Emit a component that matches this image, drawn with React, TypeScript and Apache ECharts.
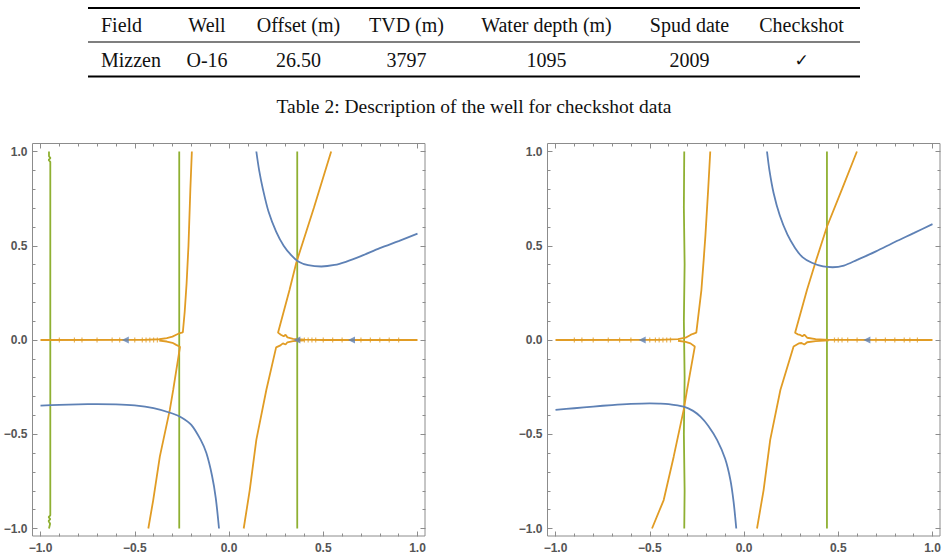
import React, { useEffect, useRef } from 'react';
import * as echarts from 'echarts';

// ---------- table content ----------
const tableHeaders = ['Field', 'Well', 'Offset (m)', 'TVD (m)', 'Water depth (m)', 'Spud date', 'Checkshot'];
const tableRow = ['Mizzen', 'O-16', '26.50', '3797', '1095', '2009', '✓'];
const captionText = 'Table 2: Description of the well for checkshot data';

// ---------- axis ticks ----------
const axisMin = -1;
const axisMax = 1;
const majorStep = 0.5;

// ---------- left plot data ----------
const leftBlueUpper = [
  [0.145, 1.0], [0.16, 0.9], [0.18, 0.8], [0.21, 0.68], [0.25, 0.575], [0.29, 0.5],
  [0.33, 0.45], [0.37, 0.415], [0.42, 0.397], [0.49, 0.39], [0.56, 0.398], [0.62, 0.415],
  [0.7, 0.445], [0.8, 0.487], [0.9, 0.525], [1.0, 0.564],
];
const leftBlueLower = [
  [-1.0, -0.348], [-0.9, -0.344], [-0.8, -0.341], [-0.7, -0.340], [-0.6, -0.341],
  [-0.5, -0.347], [-0.4, -0.362], [-0.3, -0.39], [-0.25, -0.412], [-0.2, -0.45],
  [-0.15, -0.53], [-0.12, -0.6], [-0.09, -0.72], [-0.07, -0.84], [-0.053, -1.0],
];
const leftOrangeUpperLeft = [
  [-0.197, 1.0], [-0.205, 0.8], [-0.215, 0.5], [-0.225, 0.3], [-0.235, 0.15],
  [-0.245, 0.04], [-0.26, 0.037], [-0.28, 0.028], [-0.3, 0.018], [-0.33, 0.01],
  [-0.37, 0.004], [-0.45, 0.001], [-1.0, 0.0],
];
const leftOrangeLowerLeft = [
  [-0.37, -0.003], [-0.33, -0.008], [-0.3, -0.015], [-0.28, -0.026], [-0.26, -0.036],
  [-0.262, -0.05], [-0.296, -0.265], [-0.314, -0.371], [-0.367, -0.619], [-0.402, -0.849],
  [-0.428, -1.0],
];
const leftOrangeUpperRight = [
  [0.542, 1.0], [0.45, 0.7], [0.357, 0.41], [0.321, 0.265], [0.26, 0.039],
  [0.275, 0.028], [0.29, 0.02], [0.3, 0.028], [0.31, 0.014], [0.34, 0.006],
  [0.4, 0.002], [0.5, 0.0], [1.0, 0.0],
];
const leftOrangeLowerRight = [
  [0.4, -0.002], [0.34, -0.006], [0.31, -0.012], [0.3, -0.024], [0.286, -0.018],
  [0.27, -0.03], [0.25, -0.039], [0.198, -0.265], [0.145, -0.53], [0.11, -0.796],
  [0.078, -1.0],
];
const leftGreenA = [
  [-0.955, 1.0], [-0.955, 0.975], [-0.947, 0.965], [-0.957, 0.955], [-0.948, 0.945],
  [-0.948, -0.93], [-0.957, -0.94], [-0.948, -0.95], [-0.957, -0.96], [-0.949, -0.975],
  [-0.955, -1.0],
];
const leftGreenB = [[-0.264, 1.0], [-0.264, -1.0]];
const leftGreenC = [[0.362, 1.0], [0.362, -1.0]];
const leftBlueMarks = [[-0.55, 0], [0.65, 0], [0.36, 0]];
const leftOrangeTicks = [
  [-0.9, 0], [-0.82, 0], [-0.78, 0], [-0.7, 0], [-0.62, 0], [-0.58, 0], [-0.5, 0],
  [-0.46, 0], [-0.44, 0], [-0.42, 0], [-0.4, 0], [-0.38, 0],
  [0.4, 0], [0.42, 0], [0.44, 0], [0.46, 0], [0.5, 0], [0.55, 0], [0.6, 0], [0.7, 0],
  [0.75, 0], [0.8, 0], [0.85, 0], [0.9, 0],
];

// ---------- right plot data ----------
const rightBlueUpper = [
  [0.122, 1.0], [0.135, 0.9], [0.157, 0.78], [0.19, 0.66], [0.23, 0.56], [0.27, 0.49],
  [0.31, 0.44], [0.36, 0.41], [0.42, 0.39], [0.47, 0.386], [0.53, 0.395], [0.6, 0.425],
  [0.7, 0.47], [0.8, 0.52], [0.9, 0.567], [1.0, 0.615],
];
const rightBlueLower = [
  [-1.0, -0.371], [-0.9, -0.362], [-0.8, -0.353], [-0.7, -0.345], [-0.6, -0.339],
  [-0.5, -0.336], [-0.45, -0.337], [-0.4, -0.34], [-0.32, -0.354], [-0.27, -0.376],
  [-0.231, -0.407], [-0.19, -0.455], [-0.143, -0.53], [-0.1, -0.63], [-0.072, -0.743],
  [-0.055, -0.86], [-0.041, -1.0],
];
const rightOrangeUpperLeft = [
  [-0.179, 1.0], [-0.19, 0.8], [-0.205, 0.55], [-0.214, 0.424], [-0.226, 0.265],
  [-0.253, 0.039], [-0.27, 0.033], [-0.284, 0.027], [-0.31, 0.012], [-0.35, 0.005],
  [-0.45, 0.001], [-1.0, 0.0],
];
const rightOrangeLowerLeft = [
  [-0.35, -0.004], [-0.31, -0.01], [-0.284, -0.018], [-0.261, -0.035], [-0.302, -0.265],
  [-0.32, -0.371], [-0.373, -0.619], [-0.426, -0.849], [-0.488, -1.0],
];
const rightOrangeUpperRight = [
  [0.599, 1.0], [0.52, 0.8], [0.44, 0.601], [0.383, 0.424], [0.334, 0.265],
  [0.271, 0.039], [0.285, 0.03], [0.298, 0.027], [0.31, 0.02], [0.32, 0.028],
  [0.335, 0.012], [0.38, 0.005], [0.45, 0.001], [1.0, 0.0],
];
const rightOrangeLowerRight = [
  [0.45, -0.002], [0.38, -0.006], [0.335, -0.012], [0.32, -0.024], [0.305, -0.016],
  [0.29, -0.018], [0.263, -0.035], [0.193, -0.265], [0.139, -0.53], [0.104, -0.796],
  [0.069, -1.0],
];
const rightGreenA = [
  [-0.317, 1.0], [-0.319, 0.7], [-0.315, 0.4], [-0.319, 0.1], [-0.315, -0.2],
  [-0.319, -0.5], [-0.315, -0.8], [-0.317, -1.0],
];
const rightGreenB = [[0.44, 1.0], [0.44, -1.0]];
const rightBlueMarks = [[-0.54, 0], [0.652, 0]];
const rightOrangeTicks = [
  [-0.9, 0], [-0.86, 0], [-0.8, 0], [-0.72, 0], [-0.66, 0], [-0.6, 0], [-0.5, 0],
  [-0.47, 0], [-0.45, 0], [-0.43, 0], [-0.41, 0], [-0.39, 0],
  [0.48, 0], [0.5, 0], [0.52, 0], [0.55, 0], [0.6, 0], [0.7, 0], [0.75, 0], [0.8, 0],
  [0.85, 0], [0.88, 0], [0.92, 0],
];

// ---------- styling / layout ----------
const BLUE = '#5E81B5';
const ORANGE = '#E19C24';
const GREEN = '#8FB032';
const FRAME = '#8c8c8c';
const SERIF = '"Liberation Serif", "DejaVu Serif", serif';
const LABEL = {
  show: true,
  margin: 5,
  color: '#555',
  fontWeight: 'bold',
  fontSize: 12,
  fontFamily: '"Liberation Sans", Arial, sans-serif',
};

const colX = [101, 207, 298.5, 406.5, 546.5, 689.5, 801.5];
const colAlign = ['left', 'center', 'center', 'center', 'center', 'center', 'center'];

const fmt = (v: number) => (v < 0 ? '\u2212' : '') + Math.abs(v).toFixed(1);

function axisCommon(grid: number) {
  return {
    gridIndex: grid,
    type: 'value' as const,
    min: axisMin,
    max: axisMax,
    interval: majorStep,
    offset: 8,
    axisLine: { show: false, onZero: false },
    axisTick: { show: true, inside: true, length: 5, lineStyle: { color: FRAME, width: 1 } },
    minorTick: { show: true, splitNumber: 5, length: 3, lineStyle: { color: FRAME, width: 1 } },
    splitLine: { show: false },
  };
}

function xAxes(grid: number) {
  const common = axisCommon(grid);
  return [
    { ...common, position: 'bottom', axisLabel: { ...LABEL, formatter: fmt } },
    { ...common, position: 'top', axisLabel: { show: false } },
  ];
}

function yAxes(grid: number) {
  const common = axisCommon(grid);
  return [
    { ...common, position: 'left', axisLabel: { ...LABEL, formatter: fmt } },
    { ...common, position: 'right', axisLabel: { show: false } },
  ];
}

function curve(data: number[][], color: string, axis: number, smooth: number | boolean = false) {
  return {
    type: 'line',
    xAxisIndex: axis,
    yAxisIndex: axis,
    data,
    showSymbol: false,
    symbol: 'none',
    smooth,
    lineStyle: { color, width: 1.8 },
    z: 3,
    silent: true,
  };
}

function marks(data: number[][], axis: number) {
  return {
    type: 'scatter',
    xAxisIndex: axis,
    yAxisIndex: axis,
    data,
    symbol: 'triangle',
    symbolSize: [7, 7],
    symbolRotate: 90,
    itemStyle: { color: BLUE },
    z: 4,
    silent: true,
  };
}

function ticks(data: number[][], axis: number) {
  return {
    type: 'scatter',
    xAxisIndex: axis,
    yAxisIndex: axis,
    data,
    symbol: 'rect',
    symbolSize: [1.2, 5],
    itemStyle: { color: ORANGE, opacity: 0.75 },
    z: 2,
    silent: true,
  };
}

export default function App() {
  const ref = useRef<HTMLDivElement>(null);

  useEffect(() => {
    if (!ref.current) return;
    const chart = echarts.init(ref.current, undefined, { renderer: 'svg' });

    const graphics: any[] = [];
    // table rules
    graphics.push({ type: 'line', shape: { x1: 88, y1: 8, x2: 860, y2: 8 }, style: { stroke: '#000', lineWidth: 2 } });
    graphics.push({ type: 'line', shape: { x1: 88, y1: 42, x2: 860, y2: 42 }, style: { stroke: '#000', lineWidth: 1.2 } });
    graphics.push({ type: 'line', shape: { x1: 88, y1: 76.5, x2: 860, y2: 76.5 }, style: { stroke: '#000', lineWidth: 2 } });
    tableHeaders.forEach((h, i) => {
      graphics.push({
        type: 'text',
        style: {
          text: h, x: colX[i], y: 24.5, textAlign: colAlign[i], textVerticalAlign: 'middle',
          fontFamily: SERIF, fontSize: 20, fill: '#111',
        },
      });
    });
    tableRow.forEach((h, i) => {
      graphics.push({
        type: 'text',
        style: {
          text: h, x: colX[i], y: 59.5, textAlign: colAlign[i], textVerticalAlign: 'middle',
          fontFamily: i === 6 ? '"DejaVu Sans", sans-serif' : SERIF, fontSize: i === 6 ? 17 : 20, fill: '#111',
        },
      });
    });
    graphics.push({
      type: 'text',
      style: {
        text: captionText, x: 474, y: 106, textAlign: 'center', textVerticalAlign: 'middle',
        fontFamily: SERIF, fontSize: 19.5, fill: '#111',
      },
    });
    // plot frames
    graphics.push({ type: 'rect', shape: { x: 32.5, y: 143.5, width: 392.5, height: 392.5 }, style: { fill: 'none', stroke: FRAME, lineWidth: 1 }, z: 10 });
    graphics.push({ type: 'rect', shape: { x: 547.5, y: 143.5, width: 392.5, height: 392.5 }, style: { fill: 'none', stroke: FRAME, lineWidth: 1 }, z: 10 });

    chart.setOption({
      animation: false,
      backgroundColor: '#fff',
      grid: [
        { left: 40.5, top: 151.5, width: 377, height: 377 },
        { left: 555.5, top: 151.5, width: 377, height: 377 },
      ],
      xAxis: [...xAxes(0), ...xAxes(1)],
      yAxis: [...yAxes(0), ...yAxes(1)],
      graphic: graphics,
      series: [
        // left
        ticks(leftOrangeTicks, 0),
        curve(leftGreenA, GREEN, 0),
        curve(leftGreenB, GREEN, 0),
        curve(leftGreenC, GREEN, 0),
        curve(leftOrangeUpperLeft, ORANGE, 0),
        curve(leftOrangeLowerLeft, ORANGE, 0),
        curve(leftOrangeUpperRight, ORANGE, 0),
        curve(leftOrangeLowerRight, ORANGE, 0),
        curve(leftBlueUpper, BLUE, 0, 0.3),
        curve(leftBlueLower, BLUE, 0, 0.3),
        marks(leftBlueMarks, 0),
        // right
        ticks(rightOrangeTicks, 2),
        curve(rightGreenA, GREEN, 2),
        curve(rightGreenB, GREEN, 2),
        curve(rightOrangeUpperLeft, ORANGE, 2),
        curve(rightOrangeLowerLeft, ORANGE, 2),
        curve(rightOrangeUpperRight, ORANGE, 2),
        curve(rightOrangeLowerRight, ORANGE, 2),
        curve(rightBlueUpper, BLUE, 2, 0.3),
        curve(rightBlueLower, BLUE, 2, 0.3),
        marks(rightBlueMarks, 2),
      ],
    });

    return () => chart.dispose();
  }, []);

  return (
    <div
      ref={ref}
      style={{ position: 'fixed', left: 0, top: 0, width: 947, height: 557, background: '#fff' }}
    />
  );
}
